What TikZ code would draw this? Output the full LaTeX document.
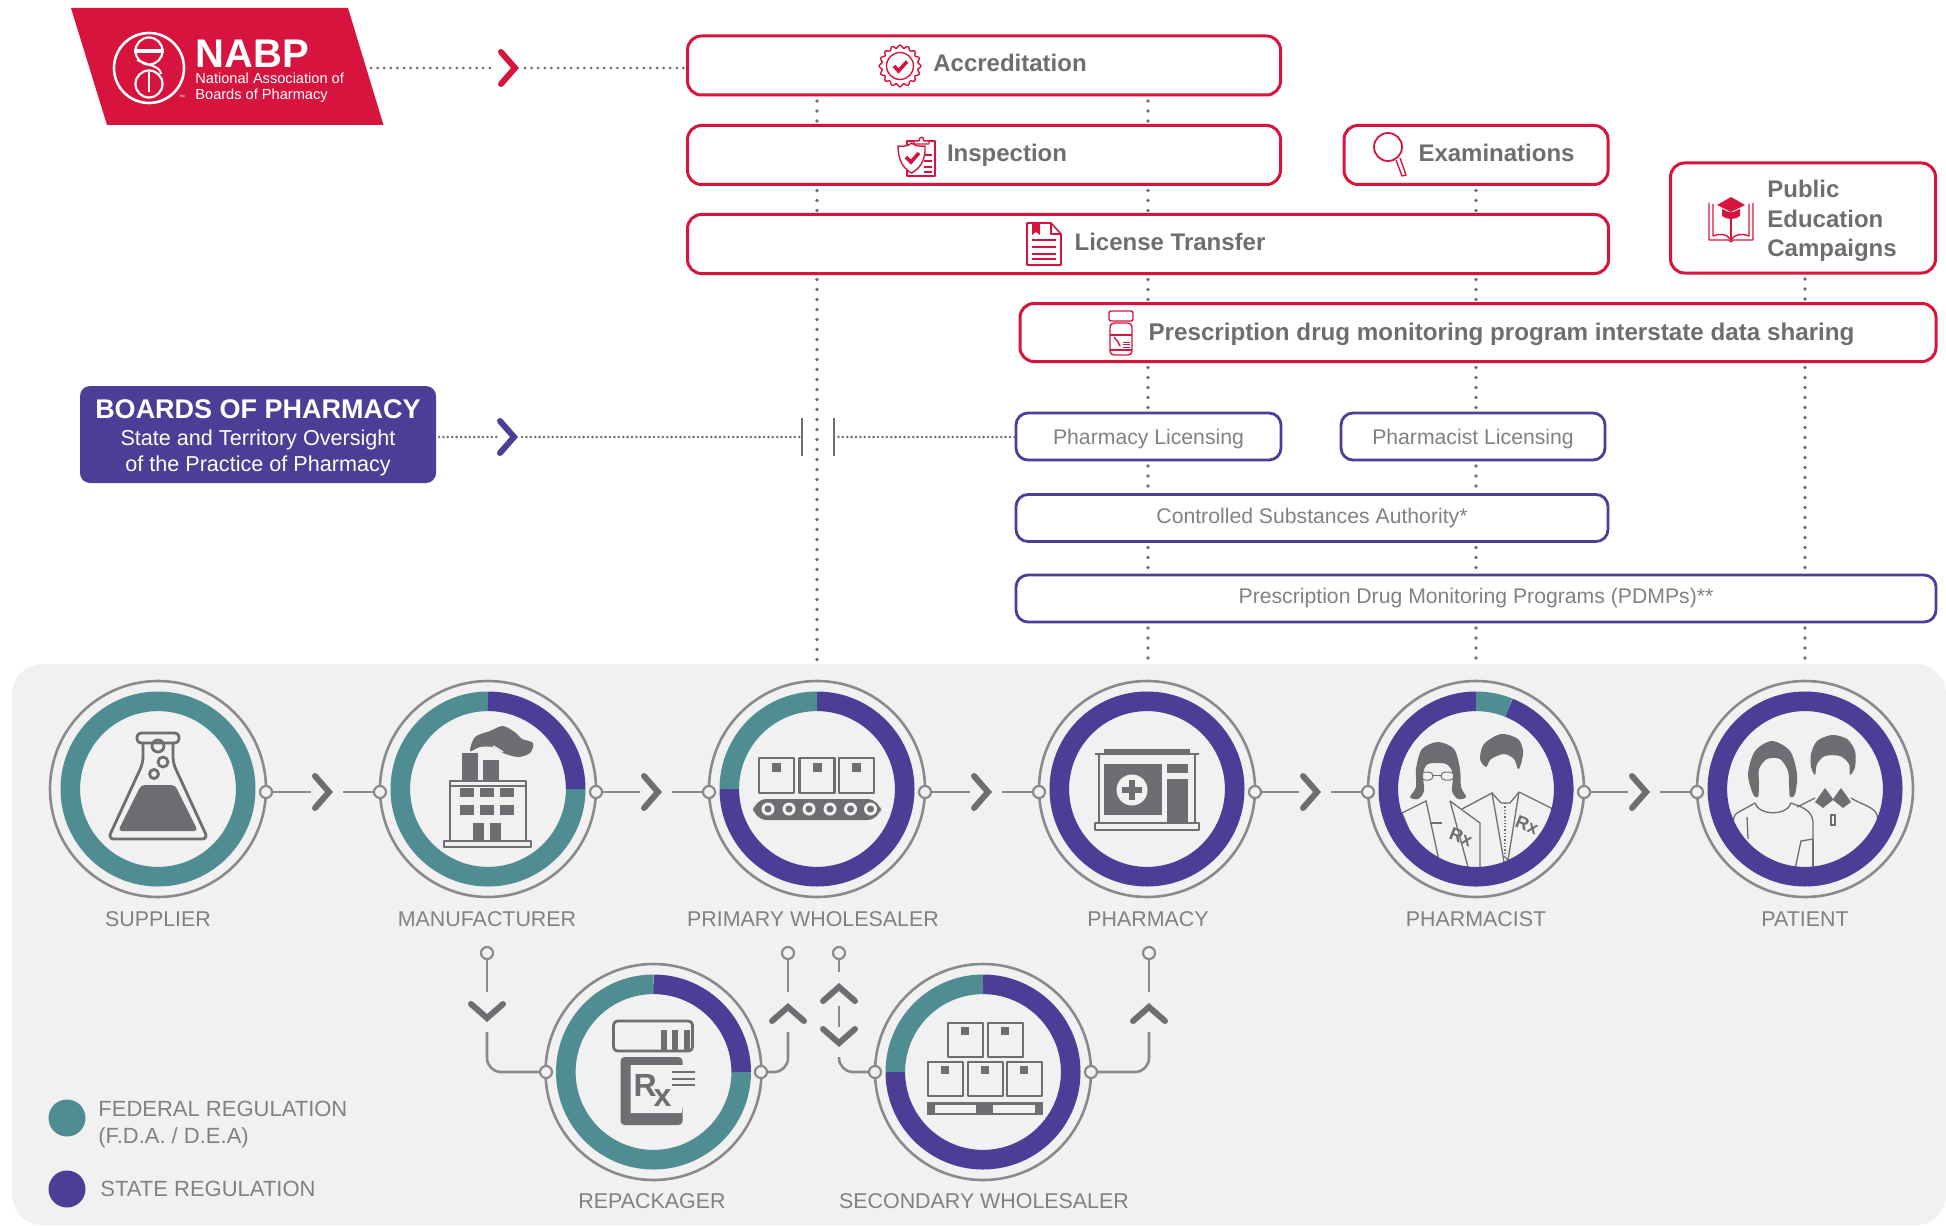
\documentclass[tikz,border=0pt]{standalone}
\usepackage{fontspec}
\setmainfont{Liberation Sans}
\usetikzlibrary{calc}
\definecolor{redc}{HTML}{D7143E}
\definecolor{purp}{HTML}{4A3E96}
\definecolor{teal2}{HTML}{4F8D93}
\definecolor{gc}{HTML}{6D6E71}
\definecolor{lab}{HTML}{808184}
\definecolor{panel}{HTML}{F1F1F2}
\definecolor{ringg}{HTML}{8A8A8C}
\newcommand{\stA}{\rule[-2.6pt]{0pt}{10.6pt}}
\newcommand{\stP}{\rule[-2.6pt]{0pt}{13.1pt}}
\newcommand{\stB}{\rule[-2pt]{0pt}{12pt}}
\newcommand{\stC}{\rule[-2pt]{0pt}{9pt}}
\tikzset{
  redbox/.style={draw=redc,line width=1.5pt,rounded corners=7pt,fill=white,inner sep=0pt,outer sep=0pt,text=gc,font=\fontsize{12}{14.6}\selectfont\bfseries},
  purbox/.style={draw=purp,line width=1.4pt,rounded corners=6pt,fill=white,inner sep=0pt,outer sep=0pt,text=lab,font=\fontsize{10.6}{13}\selectfont,minimum height=23.5pt},
  dotV/.style={draw=gc,line width=1.8pt,line cap=round,dash pattern=on 0pt off 5pt,shorten <=3pt,shorten >=1pt},
  dotH/.style={draw=gc,line width=1.5pt,line cap=round,dash pattern=on 0pt off 3.3pt},
  dotB/.style={draw=gc,line width=1.4pt,line cap=round,dash pattern=on 0pt off 2.2pt},
  tickl/.style={draw=gc,line width=1pt},
  chev/.style={line width=3pt,line cap=round,line join=miter},
  chevR/.pic={\draw[chev] (-18,-16)--(-4,0)--(-18,16);},
  chevD/.pic={\draw[chev] (-16,-18)--(0,-4)--(16,-18);},
  chevU/.pic={\draw[chev] (-16,18)--(0,4)--(16,18);},
  conn/.style={draw=ringg,line width=1.3pt,rounded corners=7pt},
  port/.style={circle,draw=ringg,line width=1.1pt,fill=panel,minimum size=6pt,inner sep=0pt,outer sep=0pt},
  outerc/.style={circle,draw=ringg,line width=1.3pt,minimum size=108pt,inner sep=0pt,outer sep=0pt},
  ring/.style={line width=9.8pt,line cap=butt},
  lbl/.style={text=lab,font=\fontsize{10.7}{13}\selectfont,inner sep=0pt},
  ico/.style={draw=gc,line width=1.4pt,line join=round},
  ppl/.style={draw=gc,line width=0.65pt},
  rico/.style={draw=redc,line width=0.7pt,line join=round},
  rxt/.style={text=gc,inner sep=0pt,font=\fontsize{9}{9}\selectfont\bfseries},
}
\newcommand{\rseg}[4]{\draw[ring,#2] (#1) ++(-#3:87.7) arc (-#3:-#4:87.7);}
\newcommand{\linkH}[3]{%
  \coordinate (t#1) at (#3,792);
  \draw[conn] (#1) -- ($(t#1)+(-22,0)$);
  \pic[color=gc] at (t#1) {chevR};
  \draw[conn] ($(t#1)+(10,0)$) -- (#2);}
\begin{document}
\begin{tikzpicture}[x=0.5pt,y=-0.5pt]
\useasboundingbox (0,0) rectangle (1946,1225);
\fill[white] (0,0) rectangle (1946,1225);
\fill[panel,rounded corners=15pt] (12,664) rectangle (1946,1225);

% column and end coordinates
\coordinate (c1) at (817,0);
\coordinate (c2) at (1148,0);
\coordinate (c3) at (1476,0);
\coordinate (c4) at (1805,0);
\coordinate (b1) at (817,664);
\coordinate (b2) at (1148,664);
\coordinate (b3) at (1476,664);
\coordinate (b4) at (1805,664);

% red boxes
\node[redbox,minimum width=296.5pt,minimum height=29.5pt] (acc) at (984,65.5) {\hspace*{26pt}\stA Accreditation};
\node[redbox,minimum width=296.5pt,minimum height=29.5pt] (insp) at (984,155) {\hspace*{23pt}\stA Inspection};
\node[redbox,minimum width=132pt,minimum height=29.5pt] (exam) at (1476,155) {\hspace*{20.5pt}\stA Examinations};
\node[redbox,minimum width=460.5pt,minimum height=29.5pt] (lic) at (1148,244) {\hspace*{22pt}\stA License Transfer};
\node[redbox,minimum width=132.5pt,minimum height=55pt] (pub) at (1803,218) {\hspace*{29pt}\begin{tabular}[c]{@{}l@{}}\rule{0pt}{13.4pt}Public\\Education\\Campaigns\end{tabular}};
\node[redbox,minimum width=458pt,minimum height=29pt] (shr) at (1478,332.5) {\hspace*{23.5pt}\stP{\fontsize{12.1}{14.6}\selectfont Prescription drug monitoring program interstate data sharing}};
% purple boxes
\node[purbox,minimum width=132.5pt] (plic) at (1148.5,436.5) {\stB Pharmacy Licensing};
\node[purbox,minimum width=132pt] (rlic) at (1473,436.5) {\stB Pharmacist Licensing};
\node[purbox,minimum width=296pt] (csa) at (1312,518) {\stC Controlled Substances Authority*};
\node[purbox,minimum width=460pt] (pdm) at (1476,598.5) {\stC Prescription Drug Monitoring Programs (PDMPs)**};

% vertical dotted connectors
\draw[dotV] (acc.south -| c1) -- (insp.north -| c1);
\draw[dotV] (insp.south -| c1) -- (lic.north -| c1);
\draw[dotV] (lic.south -| c1) -- (b1);
\draw[dotV] (acc.south -| c2) -- (insp.north -| c2);
\draw[dotV] (insp.south -| c2) -- (lic.north -| c2);
\draw[dotV] (lic.south -| c2) -- (shr.north -| c2);
\draw[dotV] (shr.south -| c2) -- (plic.north -| c2);
\draw[dotV] (plic.south -| c2) -- (csa.north -| c2);
\draw[dotV] (csa.south -| c2) -- (pdm.north -| c2);
\draw[dotV] (pdm.south -| c2) -- (b2);
\draw[dotV] (exam.south -| c3) -- (lic.north -| c3);
\draw[dotV] (lic.south -| c3) -- (shr.north -| c3);
\draw[dotV] (shr.south -| c3) -- (rlic.north -| c3);
\draw[dotV] (rlic.south -| c3) -- (csa.north -| c3);
\draw[dotV] (csa.south -| c3) -- (pdm.north -| c3);
\draw[dotV] (pdm.south -| c3) -- (b3);
\draw[dotV] (pub.south -| c4) -- (shr.north -| c4);
\draw[dotV] (shr.south -| c4) -- (pdm.north -| c4);
\draw[dotV] (pdm.south -| c4) -- (b4);

% NABP logo
\fill[redc] (71,8) -- (348,8) -- (383.5,125) -- (107,125) -- cycle;
\draw[white,line width=1.3pt] (149,68) circle (35);
\draw[white,line width=1.1pt] (149,51) circle (13.5);
\draw[white,line width=1.1pt] (149,84) circle (13.5);
\draw[white,line width=2pt] (134,51) -- (164,51);
\draw[white,line width=1pt] (137,60) .. controls (150,66) and (160,66) .. (161,74);
\draw[white,line width=1pt] (149,72) -- (149,92);
\node[white,font=\fontsize{20}{20}\selectfont\bfseries,anchor=west,inner sep=0pt] (nabpT) at (195,54) {NABP};
\node[white,font=\fontsize{7.3}{8}\selectfont,anchor=west,inner sep=0pt,align=left] (nabpS) at (195,88) {National Association of\\Boards of Pharmacy};
\node[white,font=\fontsize{3}{3}\selectfont,inner sep=0pt] (nabpTM) at (182,97) {™};
\coordinate (nabpR) at (371,68);
\coordinate (nabpC) at (519,68);
\coordinate (nabpD) at (525,68);
\draw[dotH] (nabpR) -- (496,68);
\pic[color=redc] at (nabpC) {chevR};
\draw[dotH] (nabpD) -- (nabpD -| acc.west);

% Boards of pharmacy
\node[fill=purp,rounded corners=5pt,minimum width=178pt,minimum height=48.5pt,inner sep=0pt,outer sep=0pt,text=white,align=center,font=\fontsize{10.8}{13}\selectfont] (bop) at (258,434.5) {\rule{0pt}{12.5pt}{\fontsize{13.5}{15.5}\selectfont\bfseries BOARDS OF PHARMACY}\\[0.6pt]State and Territory Oversight\\of the Practice of Pharmacy};
\coordinate (bopC) at (518,437);
\coordinate (bopD) at (522,437);
\coordinate (tick1) at (802,437);
\coordinate (tick2) at (834,437);
\draw[dotB] (bop.east |- bopC) ++(3,0) -- (497,437);
\pic[color=purp] at (bopC) {chevR};
\draw[dotB] (bopD) -- (tick1);
\draw[tickl] ($(tick1)+(0,-19)$) -- ($(tick1)+(0,19)$);
\draw[tickl] ($(tick2)+(0,-19)$) -- ($(tick2)+(0,19)$);
\draw[dotB] (tick2) -- (tick2 -| plic.west);

% small icons on the red boxes
\begin{scope}[shift={(900,66)}]
\draw[rico] plot[domain=0:360,samples=145,smooth] (\x:{19.5+1.4*cos(16*\x)});
\draw[rico] (0,0) circle (13.5);
\draw[redc,line width=1.8pt] (-6,0) -- (-1.5,5) -- (7,-4.5);
\end{scope}
\begin{scope}[shift={(916,157)}]
\draw[rico,fill=white] (-9,-16) rectangle (19,19);
\draw[rico,fill=white] (-2,-16) -- (-2,-13) -- (13,-13) -- (13,-16) -- (8,-16) .. controls (8,-21) and (3,-21) .. (3,-16) -- cycle;
\foreach \yy in {-2,4,10,15}{\draw[rico] (8,\yy) -- (16,\yy);}
\draw[rico,fill=white] (-18,-11) .. controls (-10,-10) and (-7,-12) .. (-4.5,-14) .. controls (-2,-12) and (2,-10) .. (9,-11) .. controls (10,4) and (3,12) .. (-4.5,16) .. controls (-12,12) and (-18,4) .. (-18,-11) -- cycle;
\draw[redc,line width=1.8pt] (-10,0) -- (-5,5) -- (3,-4);
\end{scope}
\begin{scope}[shift={(1044,244)}]
\draw[rico,line width=0.8pt] (-17,-21) -- (7,-21) -- (17,-10) -- (17,21) -- (-17,21) -- cycle;
\draw[rico] (7,-21) -- (7,-10) -- (17,-10);
\fill[redc] (-12,-21) -- (-4,-21) -- (-4,-9) -- (-8,-12) -- (-12,-9) -- cycle;
\foreach \yy in {-4,3,10,15}{\draw[redc,line width=0.9pt] (-12,\yy) -- (12,\yy);}
\end{scope}
\draw[rico,line width=0.9pt] (1388,147) circle (14);
\draw[rico] (1396,160) -- (1402,176) -- (1406,175) -- (1400,158);
\begin{scope}[shift={(1731,218)}]
\draw[rico] (-22,-15) -- (-22,22) -- (-2,22) -- (0,24) -- (2,22) -- (22,22) -- (22,-15);
\draw[rico] (-18,-14) -- (-18,18) .. controls (-10,15) and (-4,16) .. (0,22) .. controls (4,16) and (10,15) .. (18,18) -- (18,-14);
\draw[rico] (0,-6) -- (0,22);
\fill[redc] (-14,-13) -- (0,-21) -- (14,-13) -- (0,-6) -- cycle;
\fill[redc] (-9,-9) -- (0,-5) -- (9,-9) -- (9,-2) .. controls (5,2) and (-5,2) .. (-9,-2) -- cycle;
\end{scope}
\begin{scope}[shift={(1121,333)}]
\draw[rico,rounded corners=1pt] (-12,-22) rectangle (12,-12);
\draw[rico,rounded corners=2pt] (-11,-10) rectangle (11,22);
\draw[rico] (-11,2) -- (11,2);
\draw[rico] (-11,17) -- (11,17);
\draw[rico] (-7,4) -- (-3,9) -- (-1,13);
\foreach \yy in {9,11.5,14}{\draw[rico,line width=0.5pt] (2,\yy) -- (9,\yy);}
\end{scope}

% stage circles
\node[outerc] (sup) at (158,789) {};
\node[outerc] (man) at (488,789) {};
\node[outerc] (pri) at (817,789) {};
\node[outerc] (pha) at (1147,789) {};
\node[outerc] (pst) at (1476,789) {};
\node[outerc] (pat) at (1805,789) {};
\node[outerc] (rep) at (653.5,1072) {};
\node[outerc] (sec) at (983,1072) {};

% icons
\begin{scope}[shift={(sup)}]
\draw[ico,fill=panel,rounded corners=2pt] (-21,-56) rectangle (21,-46);
\draw[ico,rounded corners=3pt] (-15,-46) -- (-15,-26) -- (-50,50) -- (50,50) -- (15,-26) -- (15,-46);
\fill[gc,rounded corners=2pt] (-17,-4) -- (17,-4) -- (40,42) -- (-40,42) -- cycle;
\draw[ico] (0,-43) circle (6);
\draw[ico] (5,-27) circle (5);
\draw[ico] (-4,-15) circle (4.5);
\end{scope}
\begin{scope}[shift={(man)}]
\fill[gc] plot[smooth cycle] coordinates {(-18,-38)(-13,-52)(2,-58)(15,-63)(28,-56)(34,-50)(45,-46)(42,-36)(30,-32)(15,-36)(5,-42)(-8,-42)};
\fill[gc] (-26,-36) rectangle (-10,-8);
\fill[gc] (-5,-29) rectangle (11,-8);
\draw[panel,line width=0.8pt] (5,-43) -- (15,-37);
\draw[ico] (-38,-8) rectangle (38,52);
\draw[ico] (-38,-3) -- (38,-3);
\draw[ico] (-44,52) rectangle (43,58);
\foreach \xa in {-28,-8,12}{
  \fill[gc] (\xa,-1) rectangle ++(14,9);
  \fill[gc] (\xa,16) rectangle ++(14,10);
}
\fill[gc] (-15,34) rectangle (-4,52);
\fill[gc] (2,34) rectangle (13,52);
\end{scope}
\begin{scope}[shift={(pri)}]
\foreach \xa in {-58,-17.5,22}{
  \draw[ico] (\xa,-31) rectangle ++(35,35);
  \fill[gc] (\xa+13,-26) rectangle ++(9,9);
}
\fill[gc,rounded corners=7pt] (-64,10) rectangle (64,31);
\foreach \xa in {-49,-28,-8,13,33.5,53.5}{
  \fill[panel] (\xa,20) circle (6.5);
  \fill[gc] (\xa,20) circle (3.5);
}
\end{scope}
\begin{scope}[shift={(pha)}]
\fill[gc] (-43,-40) rectangle (43,-35);
\draw[ico] (-52,-35) -- (52,-35);
\draw[ico] (-48,-35) -- (-48,34);
\draw[ico] (48,-35) -- (48,34);
\draw[ico] (-52,34) rectangle (52,41);
\fill[gc] (-43,-25) rectangle (15,26);
\fill[panel] (-15,1) circle (15.5);
\fill[gc] (-18,-9) rectangle (-12,11);
\fill[gc] (-25,-2) rectangle (-5,4);
\fill[gc] (20,-25) rectangle (41,-16);
\fill[gc] (20,-10) rectangle (41,34);
\end{scope}
\begin{scope}[shift={(pst)}]
\begin{scope}
\clip (0,0) circle (79);
\fill[gc] plot[smooth cycle] coordinates {(-38,-47)(-54,-40)(-60,-20)(-60,-2)(-66,8)(-58,10)(-52,2)(-53,-15)(-48,-25)(-30,-25)(-23,-15)(-24,2)(-18,10)(-10,8)(-15,-2)(-16,-20)(-22,-40)};
\draw[gc,line width=0.5pt,rounded corners=2pt] (-55,-17) rectangle (-43,-9);
\draw[gc,line width=0.5pt,rounded corners=2pt] (-35,-17) rectangle (-22,-9);
\draw[gc,line width=0.5pt] (-43,-14) -- (-35,-14);
\fill[gc] plot[smooth cycle] coordinates {(4,-30)(8,-45)(25,-55)(42,-50)(47,-38)(45,-25)(42,-20)(38,-30)(28,-35)(15,-30)(10,-22)};
\draw[ppl] (-74,24) -- (-50,12) -- (-38,67) -- (-36,80);
\draw[ppl] (-74,24) -- (-60,58);
\draw[ppl] (-26,12) -- (-8,78);
\draw[ppl] (-26,12) -- (4,34) -- (4,80);
\draw[ppl] (-46,34) -- (-34,34);
\draw[ppl] (-14,20) -- (16,4) -- (27,67) -- (29,80);
\draw[ppl] (43,3) -- (32,71) -- (28,67);
\draw[ppl] (43,3) -- (75,19) -- (78,32);
\draw[ppl] (16,4) -- (25,14) -- (34,14) -- (43,3);
\draw[ppl,densely dotted] (29,14) -- (29,66);
\end{scope}
\node[rxt,rotate=-22] (rxA) at (-15,48) {Rx};
\node[rxt,rotate=-22] (rxB) at (51,36) {Rx};
\end{scope}
\begin{scope}[shift={(pat)}]
\clip (0,0) circle (79);
\fill[gc] plot[smooth cycle] coordinates {(-33,-48)(-50,-38)(-57,-15)(-52,5)(-47,8)(-46,-5)(-46,-20)(-38,-30)(-25,-30)(-17,-18)(-16,-5)(-15,8)(-10,5)(-8,-15)(-15,-38)};
\fill[gc] plot[smooth cycle] coordinates {(27,-54)(12,-48)(6,-35)(6,-22)(10,-14)(12,-25)(20,-33)(35,-33)(44,-25)(45,-14)(50,-22)(50,-38)(42,-50)};
\fill[gc] (10,13) -- (20,-1) -- (28,10) -- (36,-1) -- (46,13) -- (38,19) -- (28,11) -- (18,19) -- cycle;
\draw[ppl] (-8,18) -- (10,9);
\draw[ppl] (46,9) .. controls (55,15) and (70,18) .. (72,26) -- (74,44);
\draw[ppl] (-50,14) .. controls (-46,27) and (-18,27) .. (-14,14);
\draw[ppl] (-50,14) -- (-68,24) .. controls (-74,28) and (-72,40) .. (-68,58);
\draw[ppl] (-14,14) .. controls (-4,18) and (6,20) .. (8,32) -- (8,50) -- (-4,52) -- (-10,80);
\draw[ppl] (8,50) -- (8,80);
\draw[ppl] (-58,28) -- (-57,50);
\draw[ppl] (26,26) rectangle (30,36);
\end{scope}
\begin{scope}[shift={(rep)}]
\draw[ico,rounded corners=2pt] (-40,-51) rectangle (39,-21);
\foreach \xa in {7,18,30}{\fill[gc] (\xa,-42) rectangle ++(6,21);}
\fill[gc,rounded corners=2pt] (-33,-15) rectangle (29,53);
\fill[panel] (-23,-7) -- (44,-7) .. controls (47,-7) and (47,-5) .. (47,0) -- (47,15) .. controls (45,28) and (38,30) .. (30,32) -- (28,41) -- (-23,41) -- cycle;
\node[text=gc,inner sep=0pt,font=\fontsize{16}{16}\selectfont\bfseries] (rxC) at (-1,18) {R\raisebox{-5pt}{\hspace{-1.5pt}x}};
\foreach \yy in {0,6.5,13}{\draw[gc,line width=1pt] (18,\yy) -- (41,\yy);}
\end{scope}
\begin{scope}[shift={(sec)}]
\foreach \xa in {-35,5}{
  \draw[ico] (\xa,-49) rectangle ++(35,34);
  \fill[gc] (\xa+13,-45) rectangle ++(8,8);
}
\foreach \xa in {-55,-15,24}{
  \draw[ico] (\xa,-10) rectangle ++(35,34);
  \fill[gc] (\xa+13,-6) rectangle ++(8,8);
}
\fill[gc] (-56,30) rectangle (60,43);
\fill[panel] (-48,32.5) rectangle (-7,40.5);
\fill[panel] (10,32.5) rectangle (52,40.5);
\end{scope}

% rings
\rseg{sup}{teal2}{0}{360}
\rseg{man}{teal2}{0}{-270}
\rseg{man}{purp}{90}{0}
\rseg{pri}{purp}{0}{-180}
\rseg{pri}{purp}{90}{0}
\rseg{pri}{teal2}{180}{90}
\rseg{pha}{purp}{0}{360}
\rseg{pst}{purp}{68}{-270}
\rseg{pst}{teal2}{90}{68}
\rseg{pat}{purp}{0}{360}
\rseg{rep}{teal2}{0}{-270}
\rseg{rep}{purp}{90}{0}
\rseg{sec}{purp}{0}{-180}
\rseg{sec}{purp}{90}{0}
\rseg{sec}{teal2}{180}{90}

% stage labels
\node[lbl] (lsup) at (158,919) {SUPPLIER};
\node[lbl] (lman) at (487,919) {MANUFACTURER};
\node[lbl] (lpri) at (813,919) {PRIMARY WHOLESALER};
\node[lbl] (lpha) at (1148,919) {PHARMACY};
\node[lbl] (lpst) at (1476,919) {PHARMACIST};
\node[lbl] (lpat) at (1805,919) {PATIENT};
\node[lbl] (lrep) at (652,1201) {REPACKAGER};
\node[lbl] (lsec) at (984,1201) {SECONDARY WHOLESALER};

% ports
\node[port] (supR) at (266,792) {};
\node[port] (manL) at (380,792) {};
\node[port] (manR) at (596,792) {};
\node[port] (priL) at (709,792) {};
\node[port] (priR) at (925,792) {};
\node[port] (phaL) at (1039,792) {};
\node[port] (phaR) at (1255,792) {};
\node[port] (pstL) at (1368,792) {};
\node[port] (pstR) at (1584,792) {};
\node[port] (patL) at (1697,792) {};
\node[port] (repL) at (546,1072) {};
\node[port] (repR) at (761,1072) {};
\node[port] (secL) at (875,1072) {};
\node[port] (secR) at (1091,1072) {};
\node[port] (manD) at (487,953) {};
\node[port] (priA) at (788,953) {};
\node[port] (priB) at (839,953) {};
\node[port] (phaD) at (1149,953) {};

% horizontal flow
\linkH{supR}{manL}{333}
\linkH{manR}{priL}{662}
\linkH{priR}{phaL}{992}
\linkH{phaR}{pstL}{1321}
\linkH{pstR}{patL}{1650}

% side branches
\coordinate (cMan) at (487,1022);
\coordinate (cA) at (788,1003);
\coordinate (cBu) at (839,983);
\coordinate (cBd) at (839,1047);
\coordinate (cPh) at (1149,1003);
\draw[conn] (manD) -- (487,992);
\pic[color=gc] at (cMan) {chevD};
\draw[conn] (487,1032) -- (487,1072) -- (repL);
\draw[conn] (repR) -- (788,1072) -- (788,1032);
\pic[color=gc] at (cA) {chevU};
\draw[conn] (788,992) -- (priA);
\draw[conn] (priB) -- (839,972);
\pic[color=gc] at (cBu) {chevU};
\draw[conn] (839,1006) -- (839,1027);
\pic[color=gc] at (cBd) {chevD};
\draw[conn] (839,1057) -- (839,1072) -- (secL);
\draw[conn] (secR) -- (1149,1072) -- (1149,1032);
\pic[color=gc] at (cPh) {chevU};
\draw[conn] (1149,992) -- (phaD);

% legend
\node[circle,fill=teal2,minimum size=18.5pt,inner sep=0pt] (lgF) at (67,1118) {};
\node[circle,fill=purp,minimum size=18.5pt,inner sep=0pt] (lgS) at (67,1189) {};
\node[lbl,anchor=west,align=left,font=\fontsize{11}{13.2}\selectfont] (lgFt) at (98,1124.5) {FEDERAL REGULATION\\(F.D.A. / D.E.A)};
\node[lbl,anchor=west,font=\fontsize{11}{13.2}\selectfont] (lgSt) at (100,1189) {STATE REGULATION};
\end{tikzpicture}
\end{document}
